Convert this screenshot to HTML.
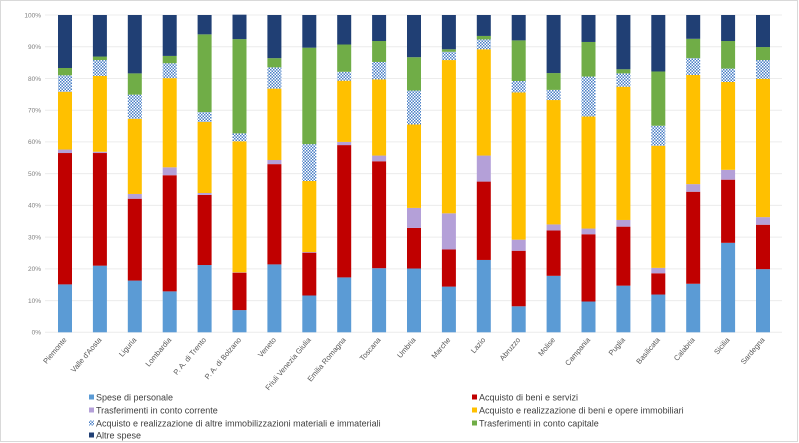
<!DOCTYPE html>
<html><head><meta charset="utf-8"><style>
html,body{margin:0;padding:0;background:#fff;}
svg{display:block;font-family:"Liberation Sans",sans-serif;}
</style></head><body>
<svg id="chart" width="799" height="443" viewBox="0 0 799 443" xmlns="http://www.w3.org/2000/svg">
<defs>
<pattern id="chk" width="3" height="3" patternUnits="userSpaceOnUse">
<rect width="3" height="3" fill="#fff"/><rect width="1.5" height="1.5" fill="#4a7fc6"/><rect x="1.5" y="1.5" width="1.5" height="1.5" fill="#4a7fc6"/>
</pattern>
</defs>
<rect x="0.5" y="0.5" width="797" height="441" fill="#fff" stroke="#d9d9d9"/>
<g id="grid"></g><g id="bars"></g><g id="xlabels"></g><g id="legend"></g>
</svg>
<script>
const categories=["Piemonte","Valle d'Aosta","Liguria","Lombardia","P. A. di Trento","P. A. di Bolzano","Veneto","Friuli Venezia Giulia","Emilia Romagna","Toscana","Umbria","Marche","Lazio","Abruzzo","Molise","Campania","Puglia","Basilicata","Calabria","Sicilia","Sardegna"];
const seriesNames=["Spese di personale","Acquisto di beni e servizi","Trasferimenti in conto corrente","Acquisto e realizzazione  di beni e opere immobiliari","Acquisto e realizzazione di altre immobilizzazioni materiali e immateriali","Trasferimenti in conto capitale","Altre spese"];
const personale=[15.1,21,16.3,12.9,21.2,7,21.4,11.6,17.3,20.2,20.1,14.4,22.8,8.2,17.8,9.7,14.7,11.9,15.3,28.2,19.9];
const beniServizi=[41.4,35.5,25.8,36.6,22.1,11.8,31.6,13.5,41.7,33.7,12.8,11.7,24.7,17.5,14.3,21.2,18.6,6.7,29,19.9,14];
const trasfCorrente=[1.1,0.4,1.5,2.5,0.6,0.1,1.3,0.2,1,1.8,6.3,11.4,8.2,3.5,1.9,1.8,2.1,1.7,2.4,3.1,2.4];
const immobiliari=[18.2,23.9,23.7,28.1,22.4,41.3,22.5,22.4,19.3,24,26.3,48.3,33.5,46.4,39.2,35.3,42,38.5,34.4,27.7,43.6];
const altreImmob=[5.2,5,7.6,4.7,3.1,2.5,6.7,11.6,2.8,5.5,10.7,2.6,3.1,3.6,3.2,12.6,4.2,6.3,5.3,4.2,5.9];
const trasfCapitale=[2.3,1.1,6.7,2.3,24.5,29.7,2.9,30.4,8.6,6.6,10.5,0.8,1.1,12.8,5.3,10.9,1.3,17.1,6.1,8.7,4.1];
const altreSpese=[16.7,13.1,18.4,12.9,6.1,7.7,13.6,10.3,9.3,8.2,13.3,10.8,6.6,8,18.3,8.5,17.1,17.8,7.5,8.2,10.1];
const yTicks=[0,10,20,30,40,50,60,70,80,90,100];

const NS="http://www.w3.org/2000/svg";
const series=[personale,beniServizi,trasfCorrente,immobiliari,altreImmob,trasfCapitale,altreSpese];
const colors=["#5b9bd5","#c00000","#b4a0d8","#ffc000","url(#chk)","#70ad47","#203f74"];
const keys=["personale","beni-servizi","trasf-corrente","immobiliari","altre-immob","trasf-capitale","altre-spese"];
const y0=332.3,y100=15,x0=65,step=34.9,bw=14;
const yS=v=>y0-(y0-y100)*v/100;
const xS=i=>x0+step*i;
function mk(t,a,p){const e=document.createElementNS(NS,t);for(const k in a)e.setAttribute(k,a[k]);p.appendChild(e);return e;}
const grid=document.getElementById('grid');
yTicks.forEach(t=>{
  const l=mk('line',{x1:45,x2:782,y1:yS(t),y2:yS(t),stroke:'#ececec','stroke-width':1},grid);
  
  
  const tx=mk('text',{x:41,y:yS(t)+2.3,'text-anchor':'end','font-size':6.5,fill:'#7f7f7f'},grid);
  tx.textContent=t+'%';
  
  
});
const bars=document.getElementById('bars');
categories.forEach((c,i)=>{
  let cum=0;
  series.forEach((s,j)=>{
    const v=s[i];const top=yS(cum+v),bot=yS(cum);
    const r=mk('rect',{x:xS(i)-bw/2,y:top,width:bw,height:Math.max(0,bot-top),fill:colors[j]},bars);
    
    
    cum+=v;
  });
  const xl=document.getElementById('xlabels');
  const t=mk('text',{x:xS(i)+2,y:340,'text-anchor':'end','font-size':7.5,fill:'#595959',transform:`rotate(-50 ${xS(i)+2} 340)`},xl);
  t.textContent=c;
  
  
});
const lg=document.getElementById('legend');
const lpos=[[89,398],[472,398],[89,411],[472,411],[89,424],[472,424],[89,436]];
seriesNames.forEach((n,j)=>{
  const [x,y]=lpos[j];
  const g=mk('g',{},lg);
  
  
  mk('rect',{x:x,y:y-3.5,width:5,height:5,fill:colors[j]},g);
  const t=mk('text',{x:x+7,y:y+2.5,'font-size':9,fill:'#404040'},g);
  t.textContent=n;
});
</script>
</body></html>
